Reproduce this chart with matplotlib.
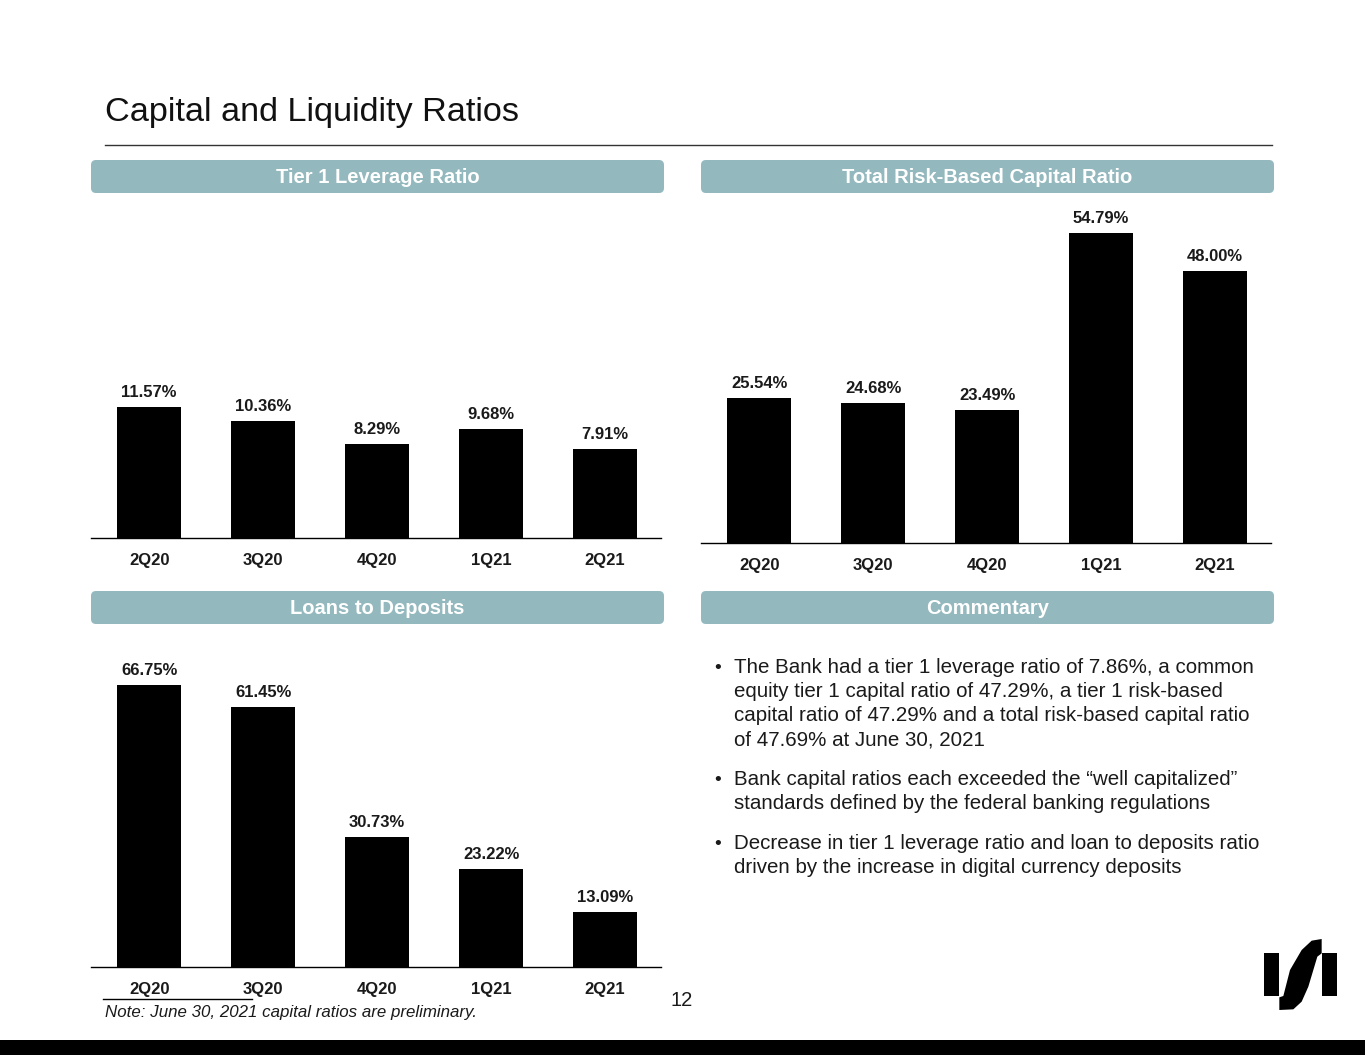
#!/usr/bin/env python3
"""Capital and Liquidity Ratios slide: three bar panels plus commentary."""
import matplotlib
matplotlib.use("Agg")
import matplotlib.pyplot as plt
from matplotlib.patches import FancyBboxPatch, Rectangle, Polygon

plt.rcParams["font.family"] = ["Liberation Sans", "DejaVu Sans"]

W, H = 1365, 1055
HEADER_COLOR = "#93B8BD"

QUARTERS = ["2Q20", "3Q20", "4Q20", "1Q21", "2Q21"]
TIER1_LEVERAGE = [11.57, 10.36, 8.29, 9.68, 7.91]
TOTAL_RBC = [25.54, 24.68, 23.49, 54.79, 48.00]
LOANS_TO_DEPOSITS = [66.75, 61.45, 30.73, 23.22, 13.09]

PANEL_TITLES = ["Tier 1 Leverage Ratio", "Total Risk-Based Capital Ratio",
                "Loans to Deposits", "Commentary"]

COMMENTARY = [
    ["The Bank had a tier 1 leverage ratio of 7.86%, a common",
     "equity tier 1 capital ratio of 47.29%, a tier 1 risk-based",
     "capital ratio of 47.29% and a total risk-based capital ratio",
     "of 47.69% at June 30, 2021"],
    ["Bank capital ratios each exceeded the \u201cwell capitalized\u201d",
     "standards defined by the federal banking regulations"],
    ["Decrease in tier 1 leverage ratio and loan to deposits ratio",
     "driven by the increase in digital currency deposits"],
]


def px_axes(fig, x0, y0, x1, y1):
    """Axes placed by pixel box (top-left origin)."""
    return fig.add_axes([x0 / W, 1 - y1 / H, (x1 - x0) / W, (y1 - y0) / H])


def bar_panel(fig, box, values, ytop):
    ax = px_axes(fig, *box)
    ax.set_facecolor("none")
    x = range(len(values))
    bars = ax.bar(x, values, width=0.56, color="black")
    ax.bar_label(bars, labels=[f"{v:.2f}%" for v in values], padding=5,
                 fontsize=12, fontweight="bold", color="#1a1a1a")
    ax.set_xlim(-0.51, 4.49)
    ax.set_ylim(0, ytop)
    ax.set_xticks(list(x))
    ax.set_xticklabels(QUARTERS, fontsize=12, fontweight="bold", color="#1a1a1a")
    ax.tick_params(axis="x", length=0, pad=11)
    ax.set_yticks([])
    for s in ("top", "left", "right"):
        ax.spines[s].set_visible(False)
    ax.spines["bottom"].set_linewidth(1.0)
    return ax


def main():
    fig = plt.figure(figsize=(W / 100, H / 100), dpi=100)

    # background layer in pixel coordinates
    bg = fig.add_axes([0, 0, 1, 1])
    bg.set_xlim(0, W)
    bg.set_ylim(H, 0)
    bg.axis("off")

    bg.text(105, 113, "Capital and Liquidity Ratios", fontsize=24.7,
            color="#111111", va="center", ha="left")
    bg.plot([105, 1272], [145, 145], color="#333333", lw=1)

    headers = [(91, 160, 664, 193), (701, 160, 1274, 193),
               (91, 591, 664, 624), (701, 591, 1274, 624)]
    for (x0, y0, x1, y1), title in zip(headers, PANEL_TITLES):
        bg.add_patch(FancyBboxPatch((x0 + 5, y0 + 5), x1 - x0 - 10, y1 - y0 - 10,
                                    boxstyle="round,pad=5,rounding_size=5",
                                    fc=HEADER_COLOR, ec="none"))
        bg.text((x0 + x1) / 2, (y0 + y1) / 2 + 1, title, color="white",
                fontsize=14.5, fontweight="bold", ha="center", va="center")

    # commentary bullets (baseline aligned)
    y = 673
    for para in COMMENTARY:
        bg.text(714, y, "\u2022", fontsize=14, ha="left", va="baseline", color="#1a1a1a")
        for line in para:
            bg.text(734, y, line, fontsize=14.8, ha="left", va="baseline", color="#1a1a1a")
            y += 24
        y += 16

    # footnote, page number, bottom band
    bg.plot([103, 252], [999, 999], color="black", lw=1)
    bg.text(105, 1013, "Note: June 30, 2021 capital ratios are preliminary.",
            fontsize=12.2, style="italic", ha="left", va="center", color="#1a1a1a")
    bg.text(682, 1000, "12", fontsize=14.5, ha="center", va="center", color="#1a1a1a")
    bg.add_patch(Rectangle((0, 1040), W, 15, fc="black", ec="none"))

    # logo
    bg.add_patch(Rectangle((1264, 953), 15, 43, fc="black", ec="none"))
    bg.add_patch(Rectangle((1322, 953), 15, 43, fc="black", ec="none"))
    s_pts = [(118, 270), (118, 232), (130, 228), (150, 150), (185, 90), (215, 62),
             (245, 57), (245, 100), (232, 110), (205, 200), (185, 245),
             (160, 268)]
    bg.add_patch(Polygon([(1240 + a / 3, 920 + b / 3) for a, b in s_pts],
                         closed=True, fc="black", ec="none"))

    bar_panel(fig, (91, 200, 661, 538), TIER1_LEVERAGE, 29.9)
    bar_panel(fig, (701, 200, 1271, 543), TOTAL_RBC, 60.6)
    bar_panel(fig, (91, 630, 661, 967), LOANS_TO_DEPOSITS, 79.7)

    fig.savefig("out.png", dpi=100)


if __name__ == "__main__":
    main()
